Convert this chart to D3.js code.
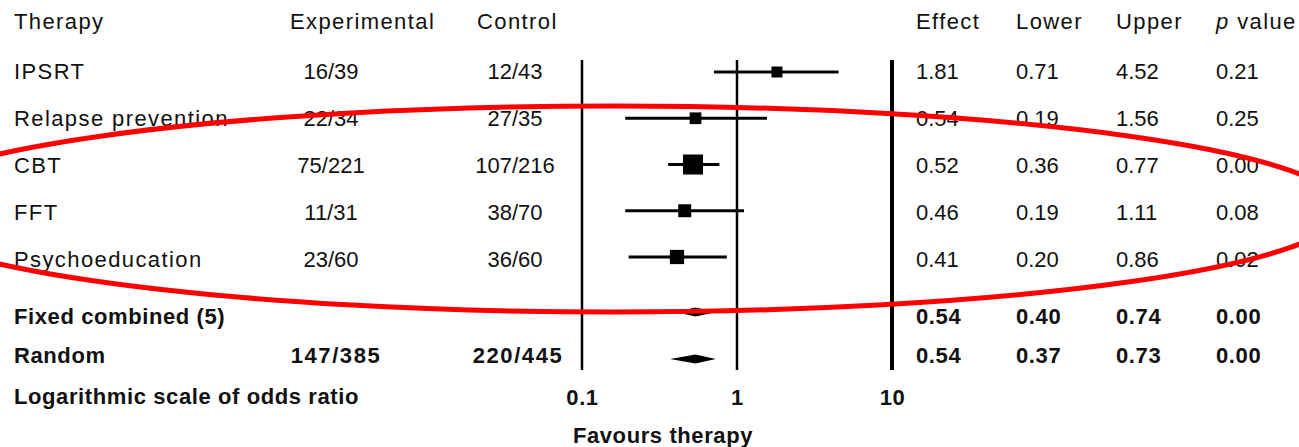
<!DOCTYPE html>
<html>
<head>
<meta charset="utf-8">
<script src="https://cdn.jsdelivr.net/npm/d3@7"></script>
<style>
  body { margin: 0; background: #fff; }
  svg { display: block; font-family: "Liberation Sans", Arial, sans-serif; }
  .lbl { font-size: 22px; letter-spacing: 1.4px; fill: #111; }
  .num { font-size: 22px; fill: #111; }
  .bold { font-weight: bold; letter-spacing: 0.6px; }
</style>
</head>
<body>
<svg width="1299" height="447"></svg>
<script>
// studies
const therapies = ["IPSRT", "Relapse prevention", "CBT", "FFT", "Psychoeducation"];
const expEvents = [16, 22, 75, 11, 23];
const expTotal = [39, 34, 221, 31, 60];
const ctrlEvents = [12, 27, 107, 38, 36];
const ctrlTotal = [43, 35, 216, 70, 60];
const effect = [1.81, 0.54, 0.52, 0.46, 0.41];
const lower = [0.71, 0.19, 0.36, 0.19, 0.20];
const upper = [4.52, 1.56, 0.77, 1.11, 0.86];
const pValue = [0.21, 0.25, 0.00, 0.08, 0.02];

// pooled rows
const summaryLabels = ["Fixed combined (5)", "Random"];
const summaryExp = ["", "147/385"];
const summaryCtrl = ["", "220/445"];
const summaryEffect = [0.54, 0.54];
const summaryLower = [0.40, 0.37];
const summaryUpper = [0.74, 0.73];
const summaryP = [0.00, 0.00];

const headers = ["Therapy", "Experimental", "Control", "Effect", "Lower", "Upper"];
const tickValues = [0.1, 1, 10];

const svg = d3.select("svg");

var col = { therapy: 14, exp: 331, ctrl: 515, effect: 916, lower: 1016, upper: 1116, p: 1216 };

const x = d3.scaleLog().domain([0.1, 10]).range([582, 892]);
const textY = d3.scaleLinear().domain([0, 4]).range([79, 267]);
const markY = d3.scaleLinear().domain([0, 4]).range([72, 257]);
const sumTextY = [324, 363];
const sumMarkY = [312, 359];

// Mantel-Haenszel weight -> square size
const mhWeight = therapies.map((t, i) => {
    let b = expTotal[i] - expEvents[i];
    return b * ctrlEvents[i] / (expTotal[i] + ctrlTotal[i]);
});
const size = d3.scaleSqrt().domain([0, d3.max(mhWeight)]).range([7, 20]);

//headers
const headX = [col.therapy, 290, 477, col.effect, col.lower, col.upper];
svg.selectAll(".head").data(headers).enter().append("text")
    .attr("class", "lbl head")
    .attr("x", (d, i) => headX[i])
    .attr("y", 29)
    .text(d => d);
const pHead = svg.append("text").attr("class", "lbl").attr("x", col.p).attr("y", 29);
pHead.append("tspan").style("font-style", "italic").text("p");
pHead.append("tspan").text(" value");

const fmt = d3.format(".2f");

// study rows text
therapies.forEach((t, i) => {
    let y = textY(i);
    svg.append("text").attr("class", "lbl").attr("x", col.therapy).attr("y", y).text(t);
    svg.append("text").attr("class", "num").attr("x", col.exp).attr("y", y)
        .attr("text-anchor", "middle").text(expEvents[i] + "/" + expTotal[i]);
    svg.append("text").attr("class", "num").attr("x", col.ctrl).attr("y", y)
        .attr("text-anchor", "middle").text(ctrlEvents[i] + "/" + ctrlTotal[i]);
    [effect[i], lower[i], upper[i], pValue[i]].forEach((v, j) => {
        svg.append("text").attr("class", "num")
            .attr("x", [col.effect, col.lower, col.upper, col.p][j])
            .attr("y", y).text(fmt(v));
    });
});

// summary rows text
summaryLabels.forEach((t, i) => {
    let y = sumTextY[i];
    svg.append("text").attr("class", "lbl bold").attr("x", col.therapy).attr("y", y).text(t);
    svg.append("text").attr("class", "num bold").attr("x", col.exp + 5).attr("y", y)
        .attr("text-anchor", "middle").style("letter-spacing", "1.6px").text(summaryExp[i]);
    svg.append("text").attr("class", "num bold").attr("x", col.ctrl + 3).attr("y", y)
        .attr("text-anchor", "middle").style("letter-spacing", "1.6px").text(summaryCtrl[i]);
    [summaryEffect[i], summaryLower[i], summaryUpper[i], summaryP[i]].forEach((v, j) => {
        svg.append("text").attr("class", "num bold")
            .attr("x", [col.effect, col.lower, col.upper, col.p][j])
            .attr("y", y).text(fmt(v));
    });
});

// reference lines
svg.selectAll(".ref").data(tickValues).enter().append("line")
    .attr("x1", d => x(d)).attr("x2", d => x(d))
    .attr("y1", 60).attr("y2", 370)
    .attr("stroke", "#000")
    .attr("stroke-width", d => d === 10 ? 4 : 2.5);

// confidence intervals and squares
const plot = svg.append("g");
therapies.forEach((t, i) => {
    let y = markY(i);
    plot.append("line")
        .attr("x1", x(lower[i])).attr("x2", x(upper[i]))
        .attr("y1", y).attr("y2", y)
        .attr("stroke", "#000").attr("stroke-width", 3);
    let s = size(mhWeight[i]);
    plot.append("rect")
        .attr("x", x(effect[i]) - s / 2).attr("y", y - s / 2)
        .attr("width", s).attr("height", s)
        .attr("fill", "#000");
});

// diamonds
summaryLabels.forEach((t, i) => {
    let y = sumMarkY[i];
    let pts = [[x(summaryLower[i]), y], [x(summaryEffect[i]), y - 4.5],
               [x(summaryUpper[i]), y], [x(summaryEffect[i]), y + 4.5]];
    plot.append("polygon").attr("points", pts.map(p => p.join(",")).join(" ")).attr("fill", "#000");
});

// axis labels
const gX = svg.append("g").attr("transform", "translate(0, 405)")
    .call(d3.axisBottom(x).tickValues(tickValues).tickSize(0).tickFormat(d3.format("")));
gX.select(".domain").remove();
gX.selectAll("text")
    .attr("y", 0).attr("dy", null)
    .attr("class", "num bold")
    .style("font-family", "Liberation Sans, Arial, sans-serif")
    .attr("fill", "#111");

svg.append("text").attr("class", "lbl bold").attr("x", col.therapy).attr("y", 404)
    .text("Logarithmic scale of odds ratio");
svg.append("text").attr("class", "lbl bold").attr("x", 663).attr("y", 443)
    .attr("text-anchor", "middle").text("Favours therapy");

// red annotation ellipse
svg.append("ellipse")
    .attr("cx", 615).attr("cy", 209)
    .attr("rx", 728).attr("ry", 103)
    .attr("fill", "none")
    .attr("stroke", "#f00")
    .attr("stroke-width", 5);
</script>
</body>
</html>
